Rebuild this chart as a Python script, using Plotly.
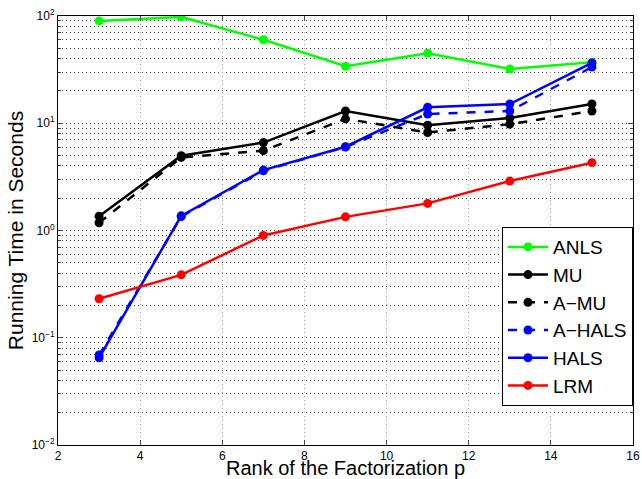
import plotly.graph_objects as go

ranks = [3, 5, 7, 9, 11, 13, 15]
anls = [90, 98, 60, 34, 45, 32, 37]
mu = [1.36, 4.98, 6.6, 13.0, 9.6, 11.2, 15.1]
a_mu = [1.18, 4.8, 5.55, 11.0, 8.2, 9.8, 13.0]
a_hals = [0.069, 1.35, 3.6, 6.0, 12.2, 13.0, 33.4]
hals = [0.065, 1.37, 3.66, 6.04, 14.1, 15.1, 36.5]
lrm = [0.231, 0.386, 0.90, 1.34, 1.79, 2.89, 4.29]

series = [
    ("ANLS", anls, "#00ff00", "solid"),
    ("MU", mu, "#000000", "solid"),
    ("A\u2212MU", a_mu, "#000000", "dash"),
    ("A\u2212HALS", a_hals, "#0000ff", "dash"),
    ("HALS", hals, "#0000ff", "solid"),
    ("LRM", lrm, "#ff0000", "solid"),
]

ytickvals = [0.01, 0.1, 1, 10, 100]
yticktext = ["10<sup>\u22122</sup>", "10<sup>\u22121</sup>", "10<sup>0</sup>", "10<sup>1</sup>", "10<sup>2</sup>"]
xtickvals = [2, 4, 6, 8, 10, 12, 14, 16]

fig = go.Figure()
for name, vals, color, dash in series:
    fig.add_trace(go.Scatter(
        x=ranks, y=vals, name=name, mode="lines+markers",
        line=dict(color=color, width=2.5, dash=dash),
        marker=dict(color=color, size=9),
    ))

fig.update_layout(
    width=642, height=479,
    margin=dict(l=58, r=9, t=16, b=34, autoexpand=False),
    paper_bgcolor="white", plot_bgcolor="white",
    font=dict(family="Liberation Sans, Arial, sans-serif", color="black", size=12),
    legend=dict(
        x=1.0, xanchor="right", y=0.508, yanchor="top",
        bgcolor="white", bordercolor="black", borderwidth=1,
        font=dict(size=19), tracegroupgap=0, itemwidth=40,
    ),
    showlegend=True,
)
fig.update_xaxes(
    range=[2, 16], tickvals=xtickvals, ticks="inside", ticklen=5,
    showline=True, linecolor="black", linewidth=1, mirror="ticks",
    showgrid=True, gridcolor="#a0a0a0", griddash="1px,3px", gridwidth=1,
    zeroline=False, tickfont=dict(size=12), automargin=False,
    title=dict(text="Rank of the Factorization p", font=dict(size=20), standoff=2),
)
fig.update_yaxes(
    type="log", range=[-2, 2], tickvals=ytickvals, ticktext=yticktext,
    ticks="inside", ticklen=5,
    showline=True, linecolor="black", linewidth=1, mirror="ticks",
    showgrid=True, gridcolor="#404040", griddash="1px,3px", gridwidth=1,
    minor=dict(showgrid=True, gridcolor="#404040", griddash="1px,3px", ticks="inside", ticklen=3, dtick="D1"),
    zeroline=False, tickfont=dict(size=12), automargin=False,
    title=dict(text="Running Time in Seconds", font=dict(size=21), standoff=2),
)

fig.write_html("out.html")
